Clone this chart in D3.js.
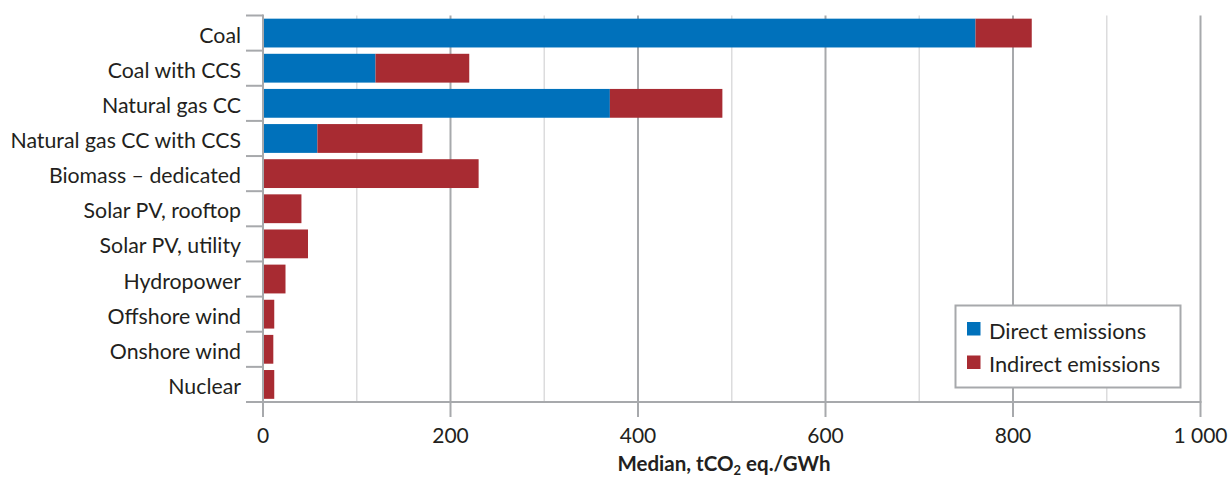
<!DOCTYPE html>
<html>
<head>
<meta charset="utf-8">
<script src="https://cdn.jsdelivr.net/npm/d3@7"></script>
<style>
  html, body { margin: 0; padding: 0; background: #fff; }
  svg { display: block; }
  text { font-family: "Lato", "Open Sans", sans-serif; fill: #231f20; }
</style>
</head>
<body>
<svg id="chart" width="1228" height="479"></svg>
<script>
const categories = ["Coal", "Coal with CCS", "Natural gas CC", "Natural gas CC with CCS",
  "Biomass \u2013 dedicated", "Solar PV, rooftop", "Solar PV, utility", "Hydropower",
  "Offshore wind", "Onshore wind", "Nuclear"];
const directEmissions = [760, 120, 370, 58, 0, 0, 0, 0, 0, 0, 0];
const indirectEmissions = [60, 100, 120, 112, 230, 41, 48, 24, 12, 11, 12];
const seriesNames = ["Direct emissions", "Indirect emissions"];
const seriesColors = ["#0071bb", "#a82b32"];
const majorTicks = [0, 200, 400, 600, 800, 1000];
const minorTicks = [100, 300, 500, 700, 900];

const svg = d3.select("#chart");
const pLeft = 263, pRight = 1200.5, pTop = 15.5, pBottom = 402;
const gridMajor = "#a7a9ac", gridMinor = "#dcdcdd";

const x = d3.scaleLinear().domain([0, 1000]).range([pLeft, pRight]);
const y = d3.scaleBand().domain(categories).range([pTop, pBottom]).paddingInner(0.18).paddingOuter(0.09);

const rows = categories.map((c, i) => ({cat: c, direct: directEmissions[i], indirect: indirectEmissions[i]}));
const stack = d3.stack().keys(["direct", "indirect"])(rows);

// minor gridlines
svg.append("g").selectAll("line").data(minorTicks).join("line")
  .attr("x1", d => x(d)).attr("x2", d => x(d))
  .attr("y1", pTop).attr("y2", pBottom)
  .attr("stroke", gridMinor).attr("stroke-width", 1.5);

// major gridlines (extend below axis as ticks)
svg.append("g").selectAll("line").data(majorTicks.filter(d => d > 0)).join("line")
  .attr("x1", d => x(d)).attr("x2", d => x(d))
  .attr("y1", pTop).attr("y2", 417)
  .attr("stroke", gridMajor).attr("stroke-width", 2);

// bars
svg.append("g").selectAll("g").data(stack).join("g")
  .attr("fill", (d, i) => seriesColors[i])
  .selectAll("rect").data(d => d.filter(s => s[1] > s[0])).join("rect")
  .attr("x", d => x(d[0]))
  .attr("width", d => x(d[1]) - x(d[0]))
  .attr("y", d => y(d.data.cat))
  .attr("height", y.bandwidth());

// y axis line and category boundary ticks
const step = y.step();
const boundaries = d3.range(categories.length + 1).map(i => pTop + i * step);
svg.append("g").selectAll("line").data(boundaries).join("line")
  .attr("x1", 246).attr("x2", pLeft)
  .attr("y1", d => d).attr("y2", d => d)
  .attr("stroke", gridMajor).attr("stroke-width", 2);
svg.append("line").attr("x1", pLeft).attr("x2", pLeft).attr("y1", pTop - 1).attr("y2", 417)
  .attr("stroke", gridMajor).attr("stroke-width", 2);
svg.append("line").attr("x1", 246).attr("x2", pRight + 1).attr("y1", pBottom).attr("y2", pBottom)
  .attr("stroke", gridMajor).attr("stroke-width", 2);

// category labels
svg.append("g").selectAll("text").data(categories).join("text")
  .attr("x", 241).attr("y", d => y(d) + y.bandwidth() / 2)
  .attr("dy", "0.45em")
  .attr("text-anchor", "end")
  .attr("font-size", 21.3)
  .text(d => d);

// x tick labels
svg.append("g").selectAll("text").data(majorTicks).join("text")
  .attr("x", d => x(d)).attr("y", 443)
  .attr("text-anchor", "middle")
  .attr("font-size", 21)
  .text(d => d === 1000 ? "1 000" : String(d));

// x axis title
const title = svg.append("text").attr("x", 724).attr("y", 471)
  .attr("text-anchor", "middle").attr("font-size", 20.5).attr("font-weight", "bold");
title.append("tspan").text("Median, tCO");
title.append("tspan").attr("font-size", 13).attr("dy", 3.5).text("2");
title.append("tspan").attr("dy", -3.5).text(" eq./GWh");

// legend
const lg = svg.append("g");
lg.append("rect").attr("x", 955.5).attr("y", 305.5).attr("width", 225).attr("height", 82)
  .attr("fill", "#fff").attr("stroke", gridMajor).attr("stroke-width", 2);
seriesNames.forEach((n, i) => {
  lg.append("rect").attr("x", 967).attr("y", 322 + i * 33.5).attr("width", 13.5).attr("height", 13.5)
    .attr("fill", seriesColors[i]);
  lg.append("text").attr("x", 989).attr("y", 338.5 + i * 33).attr("font-size", 21.8).text(n);
});
</script>
</body>
</html>
